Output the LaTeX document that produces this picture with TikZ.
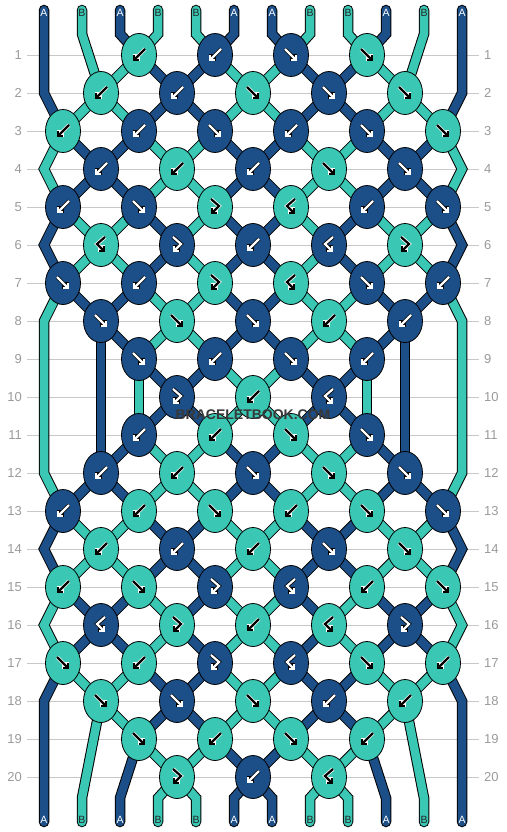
\documentclass[tikz,border=0pt]{standalone}
\usepackage{fontspec}
\setmainfont{Liberation Sans}
\usepackage{xcolor}
\usepackage{tikz}
\usetikzlibrary{shapes.geometric,arrows.meta}

\definecolor{colA}{HTML}{1C4E87}
\definecolor{colB}{HTML}{3AC8B4}
\colorlet{tipA}{white}
\colorlet{rimA}{black}
\colorlet{tipB}{black}
\colorlet{rimB}{white}
\colorlet{labA}{white}
\colorlet{labB}{black!85}
\definecolor{rowgray}{HTML}{9A9A9A}
\definecolor{linegray}{HTML}{C8C8C8}

\pgfdeclarelayer{grid}
\pgfdeclarelayer{strands}
\pgfsetlayers{grid,strands,main}

\begin{document}
\begin{tikzpicture}[x=1pt, y=-1pt,
    knot/.style={ellipse, draw=black, line width=0.8pt, minimum width=35pt, minimum height=43pt, inner sep=0pt},
    strand/.style={draw=black, line width=1pt, double distance=8.5pt, line cap=round},
    gridline/.style={linegray, line width=0.9pt},
    rownum/.style={text=rowgray, font=\fontsize{13}{15}\selectfont, inner sep=0pt},
    endlabel/.style={font=\fontsize{10.5}{12}\selectfont, inner sep=0pt},
    marktext/.style={font=\bfseries\fontsize{14}{16}\selectfont, inner sep=0pt},
    head/.style={-{Straight Barb[length=3.5pt, width=7pt]}, line cap=butt},
    pics/fw/.style={code={\draw[head] (-6,-6) -- (6,6);}},
    pics/bw/.style={code={\draw[head] (6,-6) -- (-6,6);}},
    pics/fb/.style={code={\draw[head] (-4,-8) -- (4,-1) -- (-4,7);}},
    pics/bf/.style={code={\draw[head] (4,-8) -- (-4,-1) -- (4,7);}}]

  \useasboundingbox (0,0) rectangle (506,832);

  % row lines and numbers
  \begin{pgfonlayer}{grid}
  \foreach \rw in {1,...,20}{
    \draw[gridline] (27,38*\rw+17) -- (479,38*\rw+17);
    \node[rownum, anchor=east] (ln-\rw) at (22,38*\rw+17) {\rw};
    \node[rownum, anchor=west] (rn-\rw) at (484,38*\rw+17) {\rw};
  }
  \end{pgfonlayer}

  % knots
  \foreach \rw/\row in {
    1/{2/B/bw, 3/A/bw, 4/A/fw, 5/B/fw},
    2/{1/B/bw, 2/A/bw, 3/B/fw, 4/A/fw, 5/B/fw},
    3/{1/B/bw, 2/A/bw, 3/A/fw, 4/A/bw, 5/A/fw, 6/B/fw},
    4/{1/A/bw, 2/B/bw, 3/A/bw, 4/B/fw, 5/A/fw},
    5/{1/A/bw, 2/A/fw, 3/B/fb, 4/B/bf, 5/A/bw, 6/A/fw},
    6/{1/B/bf, 2/A/fb, 3/A/bw, 4/A/bf, 5/B/fb},
    7/{1/A/fw, 2/A/bw, 3/B/fb, 4/B/bf, 5/A/fw, 6/A/bw},
    8/{1/A/fw, 2/B/fw, 3/A/fw, 4/B/bw, 5/A/bw},
    9/{2/A/fw, 3/A/bw, 4/A/fw, 5/A/bw},
    10/{2/A/fb, 3/B/bw, 4/A/bf},
    11/{2/A/bw, 3/B/bw, 4/B/fw, 5/A/fw},
    12/{1/A/bw, 2/B/bw, 3/A/fw, 4/B/fw, 5/A/fw},
    13/{1/A/bw, 2/B/bw, 3/B/fw, 4/B/bw, 5/B/fw, 6/A/fw},
    14/{1/B/bw, 2/A/bw, 3/B/bw, 4/A/fw, 5/B/fw},
    15/{1/B/bw, 2/B/fw, 3/A/fb, 4/A/bf, 5/B/bw, 6/B/fw},
    16/{1/A/bf, 2/B/fb, 3/B/bw, 4/B/bf, 5/A/fb},
    17/{1/B/fw, 2/B/bw, 3/A/fb, 4/A/bf, 5/B/fw, 6/B/bw},
    18/{1/B/fw, 2/A/fw, 3/B/fw, 4/A/bw, 5/B/bw},
    19/{2/B/fw, 3/B/bw, 4/B/fw, 5/B/bw},
    20/{2/B/fb, 3/A/bw, 4/B/bf}}{
    \foreach \kn/\col/\typ in \row {
      \ifodd\rw\relax \pgfmathsetmacro\x{76*\kn-13}\else \pgfmathsetmacro\x{76*\kn+25}\fi
      \node[knot, fill=col\col] (k\rw-\kn) at (\x,38*\rw+17) {};
      \pic[color=rim\col, line width=3.8pt] at (k\rw-\kn) {\typ};
      \pic[color=tip\col, line width=2.2pt] at (k\rw-\kn) {\typ};
    }
  }

  % end points of the strings
  \foreach \pos in {1,...,12}{
    \coordinate (top-\pos) at (6+38*\pos,10);
    \coordinate (tb-\pos) at (6+38*\pos,34);
    \coordinate (bb-\pos) at (6+38*\pos,798);
    \coordinate (bot-\pos) at (6+38*\pos,822);
  }
  \foreach \rw in {1,...,20}{
    \coordinate (eL-\rw) at (44,38*\rw+17);
    \coordinate (eR-\rw) at (462,38*\rw+17);
  }

  \begin{pgfonlayer}{strands}
  % knot to knot
  \foreach \rw/\lo/\hi/\cols in {
    1/3/10/{A,B,B,A,A,B,B,A,A,B,B,A},
    2/2/11/{A,B,B,A,A,B,B,A,A,B,B,A},
    3/2/11/{B,A,A,B,B,A,A,B,B,A,A,B},
    4/2/11/{B,A,A,B,B,A,A,B,B,A,A,B},
    5/2/11/{A,B,B,A,B,A,A,B,A,B,B,A},
    6/2/11/{A,B,B,A,B,A,A,B,A,B,B,A},
    7/2/11/{B,A,A,B,B,A,A,B,B,A,A,B},
    8/3/10/{B,A,A,B,B,A,A,B,B,A,A,B},
    9/4/9/{B,A,B,A,A,B,B,A,A,B,A,B},
    10/4/9/{B,A,B,A,A,B,B,A,A,B,A,B},
    11/3/10/{B,A,A,B,B,A,A,B,B,A,A,B},
    12/2/11/{B,A,A,B,B,A,A,B,B,A,A,B},
    13/2/11/{A,B,B,A,A,B,B,A,A,B,B,A},
    14/2/11/{A,B,B,A,A,B,B,A,A,B,B,A},
    15/2/11/{B,A,A,B,A,B,B,A,B,A,A,B},
    16/2/11/{B,A,A,B,A,B,B,A,B,A,A,B},
    17/2/11/{A,B,B,A,A,B,B,A,A,B,B,A},
    18/3/10/{A,B,B,A,A,B,B,A,A,B,B,A},
    19/4/9/{A,B,A,B,B,A,A,B,B,A,B,A}}{
    \pgfmathtruncatemacro\nx{\rw+1}
    \foreach \col [count=\pos] in \cols {
      \ifnum\pos<\lo\relax\else\ifnum\pos>\hi\relax\else
        \pgfmathtruncatemacro\kup{(\pos+1)/2}
        \pgfmathtruncatemacro\kdn{\pos/2}
        \ifodd\rw\relax
          \draw[strand, double=col\col] (k\rw-\kup.center) -- (k\nx-\kdn.center);
        \else
          \draw[strand, double=col\col] (k\rw-\kdn.center) -- (k\nx-\kup.center);
        \fi
      \fi\fi
    }
  }

  % outer strings
  \foreach \a/\b/\col in {3/5/B, 5/7/A, 13/15/A, 15/17/B}{
    \pgfmathtruncatemacro\via{\a+1}
    \draw[strand, double=col\col] (k\a-1.center) -- (eL-\via) -- (k\b-1.center);
    \draw[strand, double=col\col] (k\a-6.center) -- (eR-\via) -- (k\b-6.center);
  }
  \draw[strand, double=colB] (k7-1.center) -- (eL-8) -- (eL-12) -- (k13-1.center);
  \draw[strand, double=colB] (k7-6.center) -- (eR-8) -- (eR-12) -- (k13-6.center);

  % straight runs in the middle
  \draw[strand, double=colA] (k8-1.center) -- (k12-1.center);
  \draw[strand, double=colA] (k8-5.center) -- (k12-5.center);
  \draw[strand, double=colB] (k9-2.center) -- (k11-2.center);
  \draw[strand, double=colB] (k9-5.center) -- (k11-5.center);

  % top
  \draw[strand, double=colA] (top-1) -- (eL-2) -- (k3-1.center);
  \draw[strand, double=colA] (top-12) -- (eR-2) -- (k3-6.center);
  \foreach \pos/\dst/\col in {2/k2-1/B, 3/k1-2/A, 4/k1-2/B, 5/k1-3/B, 6/k1-3/A,
      7/k1-4/A, 8/k1-4/B, 9/k1-5/B, 10/k1-5/A, 11/k2-5/B}
    \draw[strand, double=col\col] (top-\pos) -- (tb-\pos) -- (\dst.center);

  % bottom
  \draw[strand, double=colA] (k17-1.center) -- (eL-18) -- (bot-1);
  \draw[strand, double=colA] (k17-6.center) -- (eR-18) -- (bot-12);
  \foreach \pos/\src/\col in {2/k18-1/B, 3/k19-2/A, 4/k20-2/B, 5/k20-2/B, 6/k20-3/A,
      7/k20-3/A, 8/k20-4/B, 9/k20-4/B, 10/k19-5/A, 11/k18-5/B}
    \draw[strand, double=col\col] (\src.center) -- (bb-\pos) -- (bot-\pos);
  \end{pgfonlayer}

  % string letters
  \foreach \pos/\lab in {1/A, 2/B, 3/A, 4/B, 5/B, 6/A, 7/A, 8/B, 9/B, 10/A, 11/B, 12/A}{
    \node[endlabel, text=lab\lab] (tl-\pos) at (6+38*\pos,13) {\lab};
    \node[endlabel, text=lab\lab] (bl-\pos) at (6+38*\pos,820) {\lab};
  }

  \node[marktext, text=black!78] (mark) at (253,415) {BRACELETBOOK.COM};
\end{tikzpicture}
\end{document}
